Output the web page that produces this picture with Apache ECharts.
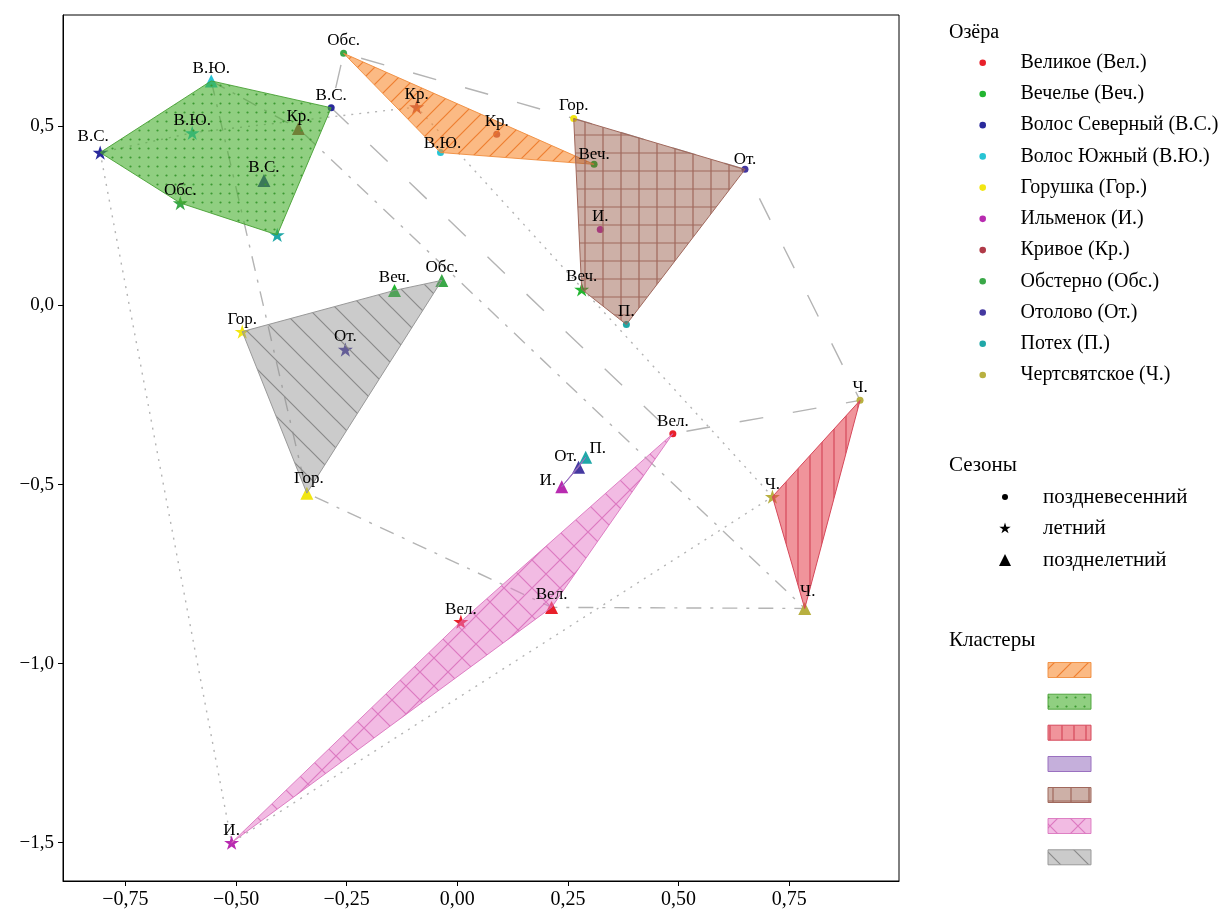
<!DOCTYPE html>
<html>
<head>
<meta charset="utf-8">
<script src="https://cdn.jsdelivr.net/npm/echarts@6/dist/echarts.min.js"></script>
<style>html,body{margin:0;padding:0;background:#fff}#c{width:1223px;height:911px}</style>
</head>
<body>
<div id="c"></div>
<script>
// ---------------- DATA ----------------
const lakeNames = ['Великое', 'Вечелье', 'Волос Северный', 'Волос Южный', 'Горушка', 'Ильменок',
  'Кривое', 'Обстерно', 'Отолово', 'Потех', 'Чертсвятское'];
const lakeAbbr = ['Вел.', 'Веч.', 'В.С.', 'В.Ю.', 'Гор.', 'И.', 'Кр.', 'Обс.', 'От.', 'П.', 'Ч.'];
const lakeColors = ['#e8202a', '#22b530', '#2a2a9c', '#28c4d4', '#f2e612', '#b82bb0',
  '#b03a48', '#3aa848', '#4438a0', '#20a8a8', '#b8b040'];
const seasonNames = ['поздневесенний', 'летний', 'позднелетний'];

// [x, y] per lake (same order as lakeNames)
const springPoints = [
  [0.487, -0.358], [0.309, 0.394], [-0.285, 0.552], [-0.038, 0.427], [0.263, 0.522], [0.323, 0.212],
  [0.089, 0.478], [-0.257, 0.704], [0.650, 0.380], [0.382, -0.053], [0.910, -0.265]
];
const summerPoints = [
  [0.008, -0.883], [0.281, 0.045], [-0.807, 0.427], [-0.599, 0.482], [-0.486, -0.073], [-0.510, -1.500],
  [-0.092, 0.554], [-0.626, 0.286], [-0.253, -0.123], [-0.407, 0.197], [0.712, -0.534]
];
const lateSummerPoints = [
  [0.213, -0.843], [-0.142, 0.042], [-0.437, 0.349], [-0.556, 0.627], [-0.340, -0.524], [0.236, -0.506],
  [-0.359, 0.494], [-0.035, 0.070], [0.274, -0.452], [0.290, -0.424], [0.785, -0.846]
];
// cluster membership: [lakeIndex, seasonIndex]
const clusterMembers = [
  [[7, 0], [6, 1], [6, 0], [3, 0], [1, 0]],                          // orange
  [[2, 1], [3, 2], [2, 0], [9, 1], [7, 1], [3, 1], [6, 2], [2, 2]],  // green
  [[10, 1], [10, 0], [10, 2]],                                      // red
  [[5, 2], [8, 2], [9, 2]],                                         // purple
  [[4, 0], [8, 0], [9, 0], [1, 1], [5, 0]],                          // brown
  [[0, 0], [0, 2], [0, 1], [5, 1]],                                  // pink
  [[4, 1], [4, 2], [1, 2], [7, 2], [8, 1]]                           // gray
];
const unlabeledPoints = ['9-1'];
const xTicks = [-0.75, -0.5, -0.25, 0, 0.25, 0.5, 0.75];
const yTicks = [-1.5, -1.0, -0.5, 0, 0.5];
const legendTitles = ['Озёра', 'Сезоны', 'Кластеры'];

// ---------------- STYLE ----------------
const xMin = -0.891, xMax = 0.998, yMin = -1.607, yMax = 0.811;
const FONT = '"Liberation Serif", "Times New Roman", serif';
const seasonPoints = [springPoints, summerPoints, lateSummerPoints];
const STAR_PTS = [[0,-10],[2.245,-3.09],[9.511,-3.09],[3.633,1.18],[5.878,8.09],[0,3.82],[-5.878,8.09],[-3.633,1.18],[-9.511,-3.09],[-2.245,-3.09]];
const STAR_PATH = 'path://M' + STAR_PTS.map(p => p.join(',')).join(' L') + ' Z';
const seasonSymbols = ['circle', STAR_PATH, 'triangle'];
const seasonSizes = [7, 15, 13];
const labelOffsets = {
  '2-1': [-7, -3], '9-2': [12, 4], '8-2': [-13, 2], '5-2': [-14, 6],
  '10-2': [3, -4], '4-2': [2, -2], '3-0': [2, 4], '1-0': [0, 3], '8-0': [0, 3]
};

function makePattern(kind, bg, fg) {
  const sizes = {slash: 17, dots: 9, vert: 12, grid: 18, cross: 28, back: 28, plain: 8};
  const s = sizes[kind];
  const c = document.createElement('canvas');
  c.width = s; c.height = s;
  const g = c.getContext('2d');
  g.fillStyle = bg; g.fillRect(0, 0, s, s);
  g.strokeStyle = fg; g.fillStyle = fg; g.lineWidth = 1.2;
  g.beginPath();
  if (kind === 'slash' || kind === 'cross') {
    g.moveTo(-2, s + 2); g.lineTo(s + 2, -2);
    g.moveTo(-2, 2); g.lineTo(2, -2);
    g.moveTo(s - 2, s + 2); g.lineTo(s + 2, s - 2);
  }
  if (kind === 'back' || kind === 'cross') {
    g.moveTo(-2, -2); g.lineTo(s + 2, s + 2);
    g.moveTo(s - 2, -2); g.lineTo(s + 2, 2);
    g.moveTo(-2, s - 2); g.lineTo(2, s + 2);
  }
  if (kind === 'vert') { g.moveTo(s / 2, 0); g.lineTo(s / 2, s); }
  if (kind === 'grid') { g.moveTo(s / 2, 0); g.lineTo(s / 2, s); g.moveTo(0, s / 2); g.lineTo(s, s / 2); }
  g.stroke();
  if (kind === 'dots') { g.beginPath(); g.arc(s / 2, s / 2, 1.1, 0, Math.PI * 2); g.fill(); }
  return {image: c, repeat: 'repeat'};
}
const clusterStyles = [
  {kind: 'slash', bg: 'rgba(248,140,50,0.6)', fg: 'rgba(236,120,40,0.9)', edge: 'rgba(240,140,60,0.9)'},
  {kind: 'dots', bg: 'rgba(70,175,45,0.6)', fg: '#3c9a32', edge: 'rgba(70,160,50,0.9)'},
  {kind: 'vert', bg: 'rgba(228,60,72,0.55)', fg: '#d6485a', edge: '#d6485a'},
  {kind: 'plain', bg: 'rgba(150,110,190,0.55)', fg: 'rgba(150,110,190,0.55)', edge: '#9a70c0'},
  {kind: 'grid', bg: 'rgba(145,80,60,0.45)', fg: '#a0685c', edge: '#a0685c'},
  {kind: 'cross', bg: 'rgba(230,120,200,0.5)', fg: 'rgba(215,105,185,0.8)', edge: 'rgba(215,105,185,0.8)'},
  {kind: 'back', bg: 'rgba(140,140,140,0.45)', fg: '#8a8a8a', edge: '#999999'}
];
const hullLineTypes = [[24, 30], [2, 6], [15, 9, 3, 9]];

function hull(pts) {
  const p = pts.slice().sort((a, b) => a[0] - b[0] || a[1] - b[1]);
  if (p.length < 3) return p;
  const cross = (o, a, b) => (a[0] - o[0]) * (b[1] - o[1]) - (a[1] - o[1]) * (b[0] - o[0]);
  const lower = [];
  for (const q of p) { while (lower.length >= 2 && cross(lower[lower.length - 2], lower[lower.length - 1], q) <= 0) lower.pop(); lower.push(q); }
  const upper = [];
  for (const q of p.slice().reverse()) { while (upper.length >= 2 && cross(upper[upper.length - 2], upper[upper.length - 1], q) <= 0) upper.pop(); upper.push(q); }
  upper.pop(); lower.pop();
  return lower.concat(upper);
}

const fmt = (v, d) => (v < 0 ? '\u2212' : '') + Math.abs(v).toFixed(d).replace('.', ',');
const legendNames = lakeNames.map((n, i) => n + ' (' + lakeAbbr[i] + ')');

const series = [];
// season envelopes
seasonPoints.forEach((pts, s) => {
  const h = hull(pts);
  series.push({
    type: 'line', name: 'env' + s, silent: true, z: 1, symbol: 'none', animation: false,
    data: h.concat([h[0]]),
    lineStyle: {color: '#b4b4b4', width: 1.4, type: hullLineTypes[s]}
  });
});
// lake points
lakeNames.forEach((n, l) => {
  series.push({
    type: 'scatter', name: legendNames[l], z: 2, silent: true,
    itemStyle: {color: lakeColors[l], opacity: 1},
    data: [0, 1, 2].map(s => ({value: seasonPoints[s][l], symbol: seasonSymbols[s], symbolSize: seasonSizes[s], symbolKeepAspect: true}))
  });
});
// cluster polygons
clusterMembers.forEach((members, ci) => {
  const pts = hull(members.map(([l, s]) => seasonPoints[s][l]));
  const st = clusterStyles[ci];
  const pat = makePattern(st.kind, st.bg, st.fg);
  series.push({
    type: 'custom', name: 'cluster' + ci, z: 3, silent: true, coordinateSystem: 'cartesian2d',
    data: pts, encode: {x: 0, y: 1},
    renderItem: (params, api) => {
      if (params.dataIndex !== 0) return {type: 'group', children: []};
      return {
        type: 'polygon',
        shape: {points: pts.map(p => api.coord(p))},
        style: {fill: pat, stroke: st.edge, lineWidth: 1}
      };
    }
  });
});
// text labels
const labelData = [], labelText = [], labelOff = [];
lakeNames.forEach((n, l) => [0, 1, 2].forEach(s => {
  const key = l + '-' + s;
  if (unlabeledPoints.includes(key)) return;
  labelData.push(seasonPoints[s][l]);
  labelText.push(lakeAbbr[l]);
  labelOff.push(labelOffsets[key] || [0, 0]);
}));
series.push({
  type: 'custom', name: 'labels', z: 4, silent: true, coordinateSystem: 'cartesian2d',
  data: labelData, encode: {x: 0, y: 1},
  renderItem: (params, api) => {
    const p = api.coord([api.value(0), api.value(1)]);
    const o = labelOff[params.dataIndex];
    return {type: 'text', x: p[0] + o[0], y: p[1] - 12.5 + o[1],
      style: {text: labelText[params.dataIndex], fill: '#000', font: '17px ' + FONT, align: 'center', verticalAlign: 'middle'}};
  }
});

// legend graphics
const graphic = [];
const titleY = [33, 465, 640];
legendTitles.forEach((t, i) => graphic.push({type: 'text', style: {text: t, x: 949, y: titleY[i], fill: '#000', font: (i === 0 ? '20px ' : '21px ') + FONT, align: 'left', verticalAlign: 'middle'}}));
legendNames.forEach((name, l) => {
  const cy = 62.7 + l * 31.23;
  graphic.push({type: 'circle', shape: {cx: 982.7, cy, r: 3.3}, style: {fill: lakeColors[l]}});
  graphic.push({type: 'text', style: {text: name, x: 1020.5, y: cy, fill: '#000', font: '20px ' + FONT, align: 'left', verticalAlign: 'middle'}});
});
const seasonRowY = [497, 528, 560];
seasonNames.forEach((name, s) => {
  const cx = 1005, cy = seasonRowY[s];
  if (s === 0) graphic.push({type: 'circle', shape: {cx, cy, r: 3}, style: {fill: '#000'}});
  if (s === 1) graphic.push({type: 'polygon', shape: {points: STAR_PTS.map(p => [cx + p[0] * 0.6, cy + 0.5 + p[1] * 0.6])}, style: {fill: '#000'}});
  if (s === 2) graphic.push({type: 'polygon', shape: {points: [[cx, cy - 6], [cx + 6, cy + 6], [cx - 6, cy + 6]]}, style: {fill: '#000'}});
  graphic.push({type: 'text', style: {text: name, x: 1043, y: cy, fill: '#000', font: '21px ' + FONT, align: 'left', verticalAlign: 'middle'}});
});
const clusterRowY = [670, 701.7, 732.7, 764, 795, 826, 857.3];
clusterStyles.forEach((st, ci) => {
  graphic.push({type: 'rect', shape: {x: 1048, y: clusterRowY[ci] - 7.5, width: 43, height: 15},
    style: {fill: makePattern(st.kind, st.bg, st.fg), stroke: st.edge, lineWidth: 1}});
});

const chart = echarts.init(document.getElementById('c'), null, {renderer: 'canvas'});
chart.setOption({
  animation: false,
  backgroundColor: '#fff',
  textStyle: {fontFamily: FONT},
  grid: {left: 63, right: 324, top: 15, bottom: 30, show: true, borderColor: '#000', borderWidth: 1,
    containLabel: false, outerBoundsMode: 'none'},
  xAxis: {
    type: 'value', min: xMin, max: xMax, splitLine: {show: false},
    axisLine: {show: true, onZero: false, lineStyle: {color: '#000', width: 1}},
    axisTick: {show: true, length: 5, customValues: xTicks, lineStyle: {color: '#000'}},
    axisLabel: {customValues: xTicks, formatter: v => fmt(v, 2), color: '#000', fontSize: 20, fontFamily: FONT, margin: 9}
  },
  yAxis: {
    type: 'value', min: yMin, max: yMax, splitLine: {show: false},
    axisLine: {show: true, onZero: false, lineStyle: {color: '#000', width: 1}},
    axisTick: {show: true, length: 5, customValues: yTicks, lineStyle: {color: '#000'}},
    axisLabel: {customValues: yTicks, formatter: v => fmt(v, 1), color: '#000', fontSize: 19, fontFamily: FONT, margin: 9}
  },
  graphic: graphic,
  series: series
});
</script>
</body>
</html>
